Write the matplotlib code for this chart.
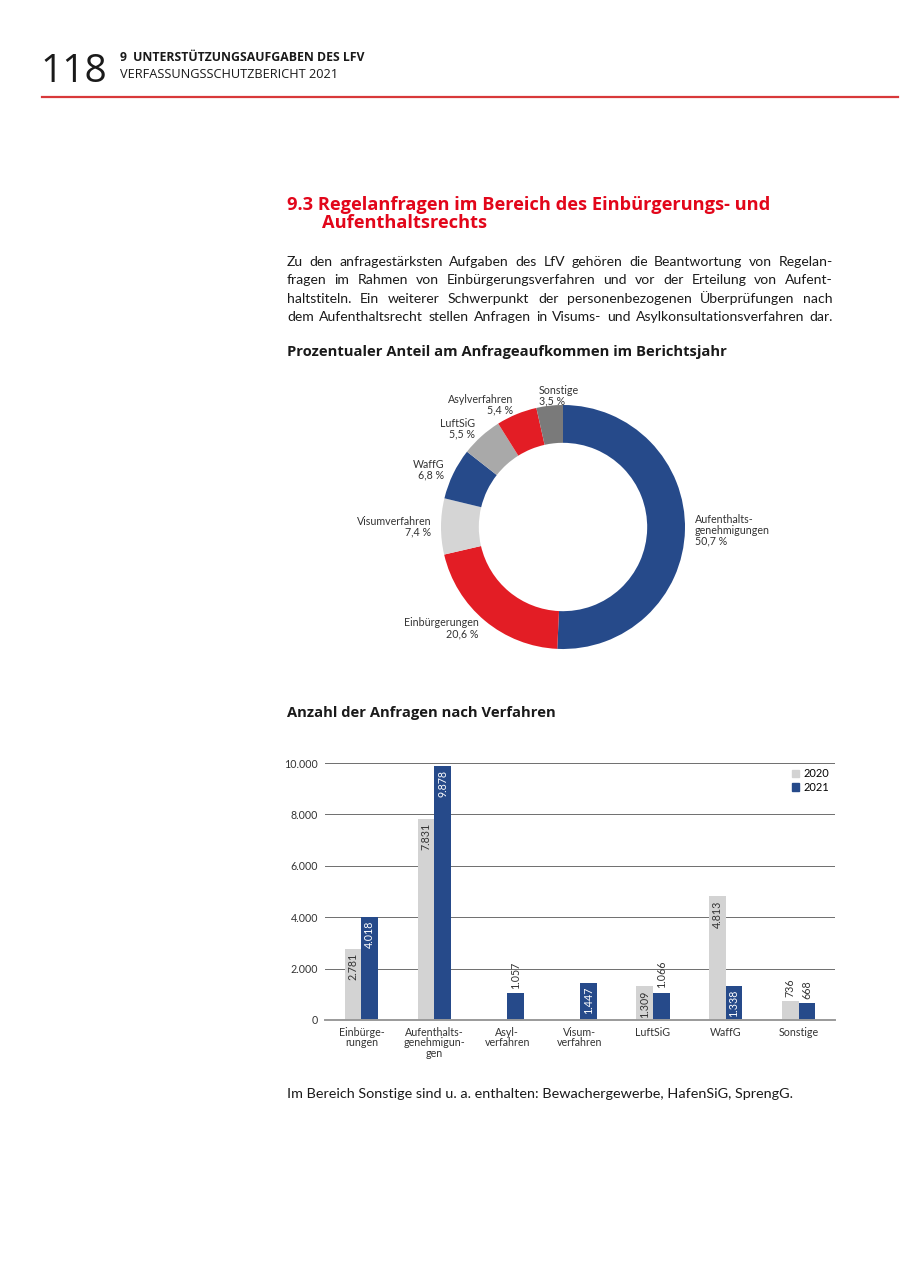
import matplotlib
matplotlib.use("Agg")
import matplotlib.pyplot as plt
from matplotlib.lines import Line2D
from matplotlib.patches import Patch
import numpy as np

plt.rcParams['font.family'] = ['Lato', 'DejaVu Sans']

W, H = 900, 1272

# --- Daten: Ringdiagramm ---
pie_labels = ["Aufenthalts-\ngenehmigungen", "Einbürgerungen", "Visumverfahren",
              "WaffG", "LuftSiG", "Asylverfahren", "Sonstige"]
pie_shares = [50.7, 20.6, 7.4, 6.8, 5.5, 5.4, 3.5]

# --- Daten: Balkendiagramm ---
bar_cats = ["Einbürge-\nrungen", "Aufenthalts-\ngenehmigun-\ngen", "Asyl-\nverfahren",
            "Visum-\nverfahren", "LuftSiG", "WaffG", "Sonstige"]
val_2020 = [2781, 7831, np.nan, np.nan, 1309, 4813, 736]
val_2021 = [4018, 9878, 1057, 1447, 1066, 1338, 668]
years = ["2020", "2021"]
y_ticks = [0, 2000, 4000, 6000, 8000, 10000]

paragraph = [
    "Zu den anfragestärksten Aufgaben des LfV gehören die Beantwortung von Regelan-",
    "fragen im Rahmen von Einbürgerungsverfahren und vor der Erteilung von Aufent-",
    "haltstiteln. Ein weiterer Schwerpunkt der personenbezogenen Überprüfungen nach",
    "dem Aufenthaltsrecht stellen Anfragen in Visums- und Asylkonsultationsverfahren dar.",
]

BLUE = "#264a8a"
RED = "#e31d25"
pie_colors = [BLUE, RED, "#d5d5d5", BLUE, "#a9a9a9", RED, "#7a7a7a"]
bar_colors = ["#d3d3d3", BLUE]
TXT = "#1a1a1a"
HEAD = ['Open Sans', 'DejaVu Sans']


def de(v):
    return f"{int(v):,}".replace(",", ".")


fig = plt.figure(figsize=(W / 100, H / 100), dpi=100)
renderer = fig.canvas.get_renderer()


def ftext(x, y, s, **kw):
    return fig.text(x / W, 1 - y / H, s, va=kw.pop('va', 'baseline'), **kw)


def fitted(x, y, s, width, size, **kw):
    # Schriftgröße so anpassen, dass der Text die Zielbreite hat
    t = ftext(x, y, s, fontsize=size, **kw)
    w = t.get_window_extent(renderer).width
    t.set_fontsize(size * width / w)
    return t


def justified(line, x0, x1, y, **kw):
    words = line.split(" ")
    arts = [fig.text(0, 0, w, va='baseline', **kw) for w in words]
    widths = [a.get_window_extent(renderer).width for a in arts]
    gap = (x1 - x0 - sum(widths)) / (len(words) - 1)
    x = x0
    for a, w in zip(arts, widths):
        a.set_position((x / W, 1 - y / H))
        x += w + gap


# Kopfzeile
ftext(40, 82, "118", fontsize=28, fontweight='normal', color=TXT, family=HEAD)
fitted(120, 61, "9  UNTERSTÜTZUNGSAUFGABEN DES LFV", 245, 8, fontweight='bold', color=TXT, family=HEAD)
fitted(120, 78, "VERFASSUNGSSCHUTZBERICHT 2021", 217, 8, color=TXT, family=HEAD)
fig.add_artist(Line2D([42 / W, 898 / W], [1 - 97 / H, 1 - 97 / H], color="#d8383a", lw=1.6))

# Überschrift
h = fitted(287, 210, "9.3 Regelanfragen im Bereich des Einbürgerungs- und", 483, 12.5,
           fontweight='bold', color="#e2061a", family=HEAD)
ftext(322, 228, "Aufenthaltsrechts", fontsize=h.get_fontsize(), fontweight='bold',
      color="#e2061a", family=HEAD)

# Fließtext (Blocksatz)
for i, line in enumerate(paragraph):
    justified(line, 287, 833, 266 + i * 18.4, fontsize=10.1, color=TXT)

fitted(287, 356, "Prozentualer Anteil am Anfrageaufkommen im Berichtsjahr", 439, 10,
       fontweight='bold', color=TXT, family=HEAD)

# Ringdiagramm
cx, cy, r = 563, 527, 122
ax1 = fig.add_axes([(cx - r) / W, 1 - (cy + r) / H, 2 * r / W, 2 * r / H])
wedges, _ = ax1.pie(pie_shares, colors=pie_colors, startangle=90, counterclock=False,
                    wedgeprops=dict(width=0.31, linewidth=0))
ax1.set_xlim(-1, 1)
ax1.set_ylim(-1, 1)
ax1.axis('off')
for w, lab, v in zip(wedges, pie_labels, pie_shares):
    mid = np.deg2rad((w.theta1 + w.theta2) / 2)
    x, y = 1.08 * np.cos(mid), 1.08 * np.sin(mid)
    ha = 'left' if np.cos(mid) > -0.2 else 'right'
    if -0.2 < np.cos(mid) < 0:
        x -= 0.08
    pct = f"{v:.1f}".replace(".", ",") + " %"
    ax1.text(x, y, lab + "\n" + pct, ha=ha, va='center', multialignment=ha,
             fontsize=7.7, color="#333333", linespacing=0.95, clip_on=False)

fitted(287, 717, "Anzahl der Anfragen nach Verfahren", 269, 10, fontweight='bold',
       color=TXT, family=HEAD)

# Balkendiagramm
ax2 = fig.add_axes([325 / W, 1 - 1020 / H, (835 - 325) / W, (1020 - 763) / H])
x = np.arange(len(bar_cats))
bw = 0.23
for k, (vals, col) in enumerate(zip([val_2020, val_2021], bar_colors)):
    pos = x + (k - 0.5) * bw
    ax2.bar(pos, vals, bw, color=col, label=years[k], zorder=3)
    for p, v in zip(pos, vals):
        if np.isnan(v):
            continue
        if v > 1100:
            ax2.annotate(de(v), (p, v), xytext=(0, -3), textcoords='offset points',
                         rotation=90, ha='center', va='top', fontsize=7.7,
                         color='white' if k == 1 else "#333333", zorder=4)
        else:
            ax2.annotate(de(v), (p, v), xytext=(0, 3), textcoords='offset points',
                         rotation=90, ha='center', va='bottom', fontsize=7.7,
                         color="#333333", zorder=4)

ax2.set_xlim(-0.5, len(bar_cats) - 0.5)
ax2.set_ylim(0, 10000)
ax2.set_yticks(y_ticks)
ax2.set_yticklabels([de(t) for t in y_ticks])
ax2.set_xticks(x)
ax2.set_xticklabels(bar_cats, linespacing=0.95)
ax2.tick_params(axis='both', length=0, labelsize=7.7, labelcolor="#333333")
ax2.tick_params(axis='x', pad=5)
ax2.tick_params(axis='y', pad=5)
ax2.grid(True, axis='y', color="#6e6e6e", lw=0.7, zorder=0)
for s in ['top', 'right', 'left']:
    ax2.spines[s].set_visible(False)
ax2.spines['bottom'].set_color("#9a9a9a")
ax2.spines['bottom'].set_linewidth(1.4)
ax2.spines['bottom'].set_zorder(5)
ax2.patch.set_alpha(0)
handles = [Patch(color=c, label=yr) for c, yr in zip(bar_colors, years)]
ax2.legend(handles=handles, loc='upper right', frameon=False, fontsize=7.9,
           handlelength=0.7, handleheight=0.7, handletextpad=0.4, labelspacing=0.2,
           borderaxespad=0.0, borderpad=0.5)

# Fußnote
ftext(287, 1098, "Im Bereich Sonstige sind u. a. enthalten: Bewachergewerbe, HafenSiG, SprengG.",
      fontsize=10.4, color=TXT)

fig.savefig("out.png", dpi=100, facecolor='white')
